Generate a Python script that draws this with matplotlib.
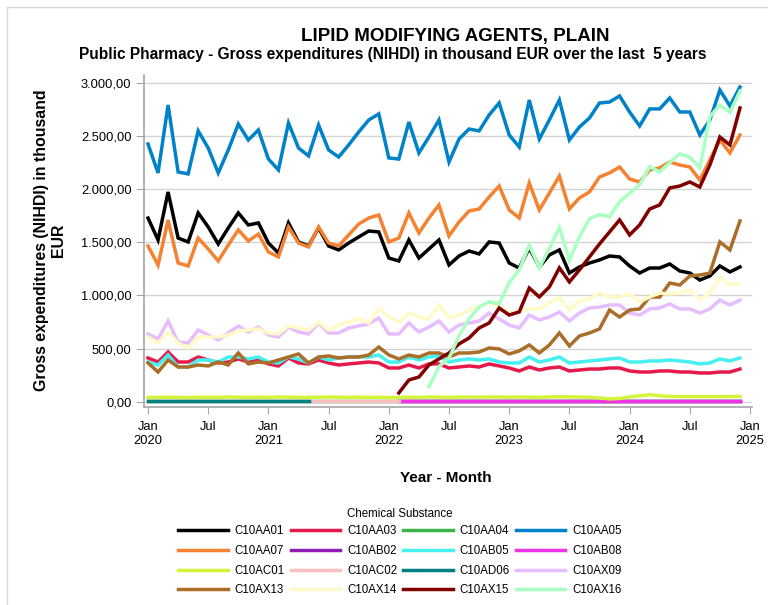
import numpy as np
import matplotlib
matplotlib.use("Agg")
import matplotlib.pyplot as plt
from matplotlib.lines import Line2D

plt.rcParams['font.family'] = ['Liberation Sans', 'DejaVu Sans']

# months Jan 2020 .. Dec 2024 (index 0..59)
n_months = 60

tick_labels = ["Jan\n2020", "Jul", "Jan\n2021", "Jul", "Jan\n2022", "Jul",
               "Jan\n2023", "Jul", "Jan\n2024", "Jul", "Jan\n2025"]

aa01 = [1727, 1521, 1972, 1539, 1502, 1775, 1643, 1483, 1634, 1775, 1662, 1681,
        1492, 1398, 1681, 1502, 1464, 1634, 1464, 1427, 1492, 1549, 1605, 1596,
        1351, 1323, 1521, 1351, 1436, 1521, 1286, 1370, 1417, 1389, 1502, 1492,
        1304, 1257, 1445, 1267, 1380, 1427, 1210, 1267, 1304, 1333, 1370, 1361,
        1276, 1210, 1257, 1257, 1295, 1229, 1210, 1144, 1182, 1276, 1220, 1267]
aa03 = [411, 373, 467, 373, 373, 420, 392, 364, 373, 402, 373, 392,
        355, 336, 411, 364, 355, 392, 364, 345, 355, 364, 373, 364,
        317, 317, 345, 317, 355, 355, 317, 326, 336, 326, 355, 336,
        317, 289, 326, 298, 317, 326, 289, 298, 307, 307, 317, 317,
        289, 279, 279, 289, 289, 279, 279, 270, 270, 279, 279, 307]
aa04 = [3] * 60
aa05 = [2423, 2151, 2790, 2160, 2142, 2546, 2386, 2151, 2367, 2611, 2461, 2555,
        2282, 2179, 2621, 2386, 2311, 2602, 2367, 2301, 2414, 2536, 2649, 2706,
        2292, 2282, 2630, 2339, 2489, 2649, 2254, 2470, 2564, 2546, 2696, 2809,
        2508, 2395, 2837, 2470, 2649, 2837, 2461, 2583, 2668, 2809, 2818, 2875,
        2724, 2593, 2753, 2753, 2856, 2724, 2724, 2508, 2649, 2931, 2780, 2959]
aa07 = [1464, 1285, 1708, 1304, 1276, 1539, 1436, 1323, 1473, 1615, 1511, 1577,
        1408, 1361, 1643, 1492, 1455, 1643, 1492, 1464, 1568, 1671, 1727, 1756,
        1502, 1539, 1775, 1586, 1727, 1850, 1558, 1690, 1793, 1812, 1925, 2028,
        1803, 1727, 2057, 1803, 1962, 2122, 1812, 1916, 1972, 2113, 2151, 2207,
        2094, 2066, 2179, 2198, 2254, 2226, 2207, 2085, 2273, 2461, 2339, 2508]
ab02 = [None] * 25 + [5] * 35
ab05 = [373, 345, 439, 326, 326, 392, 392, 373, 420, 420, 402, 420,
        373, 364, 420, 402, 364, 420, 392, 411, 420, 420, 420, 439,
        373, 373, 420, 392, 420, 430, 373, 392, 402, 392, 402, 373,
        364, 364, 420, 373, 392, 420, 364, 373, 383, 392, 402, 411,
        373, 373, 383, 383, 392, 383, 373, 355, 364, 402, 383, 411]
ab08 = [None] * 25 + [11] * 35
ac01 = [40, 40, 42, 40, 38, 40, 42, 40, 44, 42, 40, 42,
        40, 44, 42, 40, 40, 42, 44, 42, 40, 42, 40, 42,
        38, 40, 42, 40, 44, 42, 40, 42, 44, 42, 44, 44,
        42, 44, 42, 40, 45, 46, 45, 44, 42, 35, 26, 30,
        45, 55, 66, 55, 50, 48, 47, 48, 48, 47, 48, 50]
ac02 = [10] * 26 + [None] * 34
ad06 = [10] * 17 + [None] * 43
ax09 = [637, 590, 759, 561, 552, 674, 627, 580, 646, 712, 655, 702,
        627, 608, 702, 655, 637, 740, 646, 646, 693, 712, 731, 787,
        637, 637, 740, 655, 702, 759, 655, 721, 740, 759, 834, 778,
        721, 693, 815, 768, 797, 843, 759, 834, 881, 890, 909, 909,
        834, 815, 872, 881, 919, 872, 872, 834, 872, 956, 909, 956]
ax13 = [364, 279, 392, 326, 326, 345, 336, 373, 345, 458, 355, 373,
        364, 392, 420, 449, 364, 420, 430, 411, 420, 420, 439, 514,
        439, 402, 439, 420, 458, 458, 420, 458, 458, 467, 505, 496,
        449, 477, 533, 458, 533, 646, 524, 618, 646, 684, 862, 796,
        862, 872, 984, 984, 1116, 1097, 1182, 1191, 1210, 1502, 1427, 1700]
ax14 = [608, 552, 655, 552, 505, 608, 608, 608, 627, 665, 674, 684,
        646, 637, 712, 693, 674, 749, 674, 721, 749, 778, 740, 881,
        797, 749, 834, 797, 778, 909, 787, 815, 862, 900, 928, 900,
        834, 853, 872, 872, 928, 975, 862, 947, 966, 1022, 985, 985,
        1013, 938, 985, 1022, 1013, 1022, 1050, 956, 1022, 1172, 1097, 1116]
ax15 = [None] * 25 + [82, 204, 232, 345, 402, 458, 543, 599, 693, 740, 881,
                      815, 844, 1069, 985, 1079, 1258, 1126, 1239, 1361, 1483, 1596, 1709,
                      1568, 1662, 1812, 1850, 2010, 2028, 2066, 2019, 2226, 2489, 2414, 2762]
ax16 = [None] * 28 + [140, 330, 410, 620, 780, 890, 940, 920,
                      1120, 1240, 1470, 1260, 1440, 1640, 1330, 1550, 1720, 1760, 1740, 1880,
                      1960, 2040, 2210, 2160, 2250, 2330, 2300, 2200, 2680, 2790, 2720, 2920]

series = [
    ("C10AA01", aa01, "#000000"),
    ("C10AA03", aa03, "#e6194b"),
    ("C10AA04", aa04, "#3cb44b"),
    ("C10AA05", aa05, "#0082c8"),
    ("C10AA07", aa07, "#f58231"),
    ("C10AB02", ab02, "#911eb4"),
    ("C10AB05", ab05, "#46f0f0"),
    ("C10AB08", ab08, "#f032e6"),
    ("C10AC01", ac01, "#d2f53c"),
    ("C10AC02", ac02, "#fabebe"),
    ("C10AD06", ad06, "#008080"),
    ("C10AX09", ax09, "#e6beff"),
    ("C10AX13", ax13, "#aa6e28"),
    ("C10AX14", ax14, "#fffac8"),
    ("C10AX15", ax15, "#800000"),
    ("C10AX16", ax16, "#aaffc3"),
]

fig = plt.figure(figsize=(7.68, 6.05), dpi=100)
ax = fig.add_axes([144 / 768, 1 - 407 / 605, 608 / 768, 332 / 605])

months = np.arange(n_months)
handles = []
for name, vals, col in series:
    y = np.array([np.nan if v is None else v for v in vals], dtype=float)
    ax.plot(months, y, color=col, lw=2.5, solid_joinstyle='miter')
    handles.append(Line2D([0], [0], color=col, lw=2.5, label=name))

ax.set_xlim(-0.4, 60.2)
ax.set_ylim(-50, 3072)
ax.set_yticks(np.arange(0, 3001, 500))
ax.set_yticklabels([f"{v:,.2f}".replace(",", "X").replace(".", ",").replace("X", ".")
                    for v in np.arange(0, 3001, 500)])
ax.set_xticks(np.arange(0, 61, 6))
ax.set_xticklabels(tick_labels)
ax.grid(axis='y', color='#d4d4d4', lw=1)
ax.set_axisbelow(True)
for s in ['top', 'right']:
    ax.spines[s].set_visible(False)
for s in ['left', 'bottom']:
    ax.spines[s].set_color('#a6a6a6')
    ax.spines[s].set_linewidth(1.2)
ax.tick_params(axis='y', length=6, color='#a6a6a6', labelsize=9.3, pad=3)
ax.tick_params(axis='x', length=5, color='#a6a6a6', labelsize=9.3, pad=5)

fig.text(455 / 768, 1 - 36 / 605, "LIPID MODIFYING AGENTS, PLAIN",
         ha='center', va='center', fontsize=13.5, fontweight='bold')
fig.text(393 / 768, 1 - 55 / 605,
         "Public Pharmacy - Gross expenditures (NIHDI) in thousand EUR over the last  5 years",
         ha='center', va='center', fontsize=11.2, fontweight='bold')
fig.text(50 / 768, 1 - 240 / 605, "Gross expenditures (NIHDI) in thousand\nEUR",
         ha='center', va='center', rotation=90, fontsize=11.4, fontweight='bold',
         multialignment='center')
fig.text(446 / 768, 1 - 478 / 605, "Year - Month", ha='center', va='center',
         fontsize=11, fontweight='bold')

# legend is filled column by column, so reorder to read row by row
ncol = 4
nrow = len(handles) // ncol
ordered = [handles[r * ncol + c] for c in range(ncol) for r in range(nrow)]
leg = fig.legend(handles=ordered, loc='upper center', ncol=ncol,
                 bbox_to_anchor=(400 / 768, 1 - 502 / 605), frameon=False,
                 fontsize=8.3, title="Chemical Substance", title_fontsize=8.3,
                 handlelength=4.3, handletextpad=0.6, columnspacing=0.5,
                 labelspacing=0.66, borderpad=0)
leg._legend_box.sep = 4

# light frame around the whole chart
fig.add_artist(Line2D([7 / 768, 7 / 768], [0, 1 - 7 / 605], color='#d9d9d9', lw=1))
fig.add_artist(Line2D([7 / 768, 1], [1 - 7 / 605, 1 - 7 / 605], color='#d9d9d9', lw=1))

fig.savefig("out.png", dpi=100)
